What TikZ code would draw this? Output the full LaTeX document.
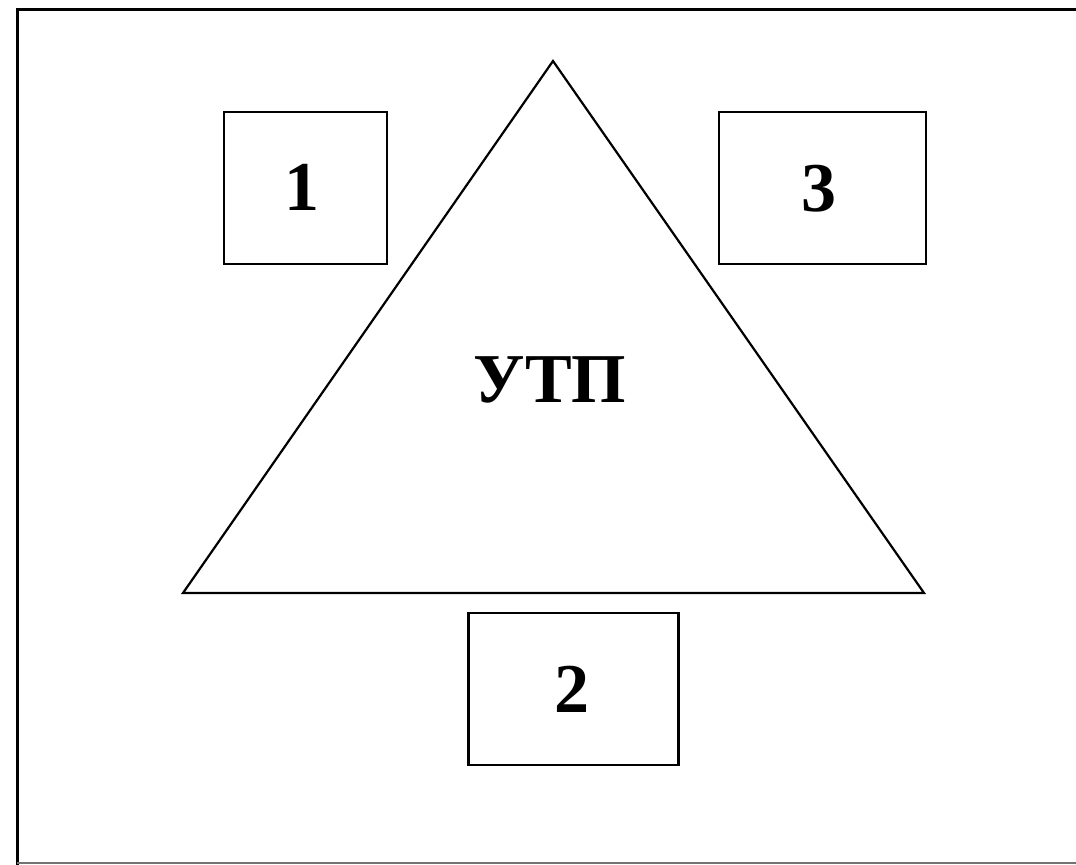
\documentclass[tikz,border=0pt]{standalone}
\usepackage{fontspec}
\setmainfont{Liberation Serif}
\begin{document}
\begin{tikzpicture}[x=0.5pt,y=-0.5pt,
  numbox/.style={draw=black,line width=1.4pt,inner sep=0pt},
  lbl/.style={font=\fontsize{35}{38}\selectfont\bfseries,inner sep=0pt},
  tri/.style={draw=black,line width=1.1pt,line join=miter}]
\useasboundingbox[fill=white] (0,0) rectangle (1076,865);
% outer frame
\draw[line width=1.5pt] (17,870) -- (17,10) -- (1085,10);
\draw[line width=1.2pt,black!55] (17,863) -- (1085,863);
% triangle
\coordinate (A) at (553,61);
\coordinate (B) at (183,593);
\coordinate (C) at (924,593);
\draw[tri] (A) -- (B) -- (C) -- cycle;
\node[lbl] (utp) at (550,380) {УТП};
% boxes
\node[numbox,minimum width=81.5pt,minimum height=76pt] (b1) at (305.5,188) {};
\node[numbox,minimum width=103.5pt,minimum height=76pt] (b3) at (822.5,188) {};
\node[numbox,minimum width=105pt,minimum height=76pt] (b2) at (573.5,689) {};
\node[lbl] (t1) at (302,187) {1};
\node[lbl] (t3) at (819,189) {3};
\node[lbl] (t2) at (572,689) {2};
\end{tikzpicture}
\end{document}
